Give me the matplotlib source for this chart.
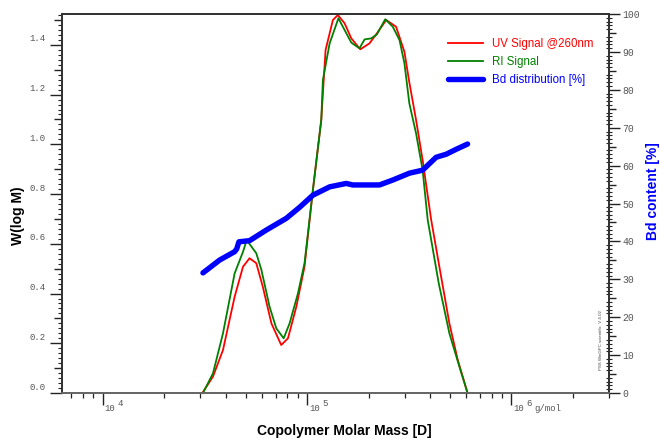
import numpy as np
import matplotlib
matplotlib.use('Agg')
import matplotlib.pyplot as plt
from matplotlib.ticker import FixedLocator, LogLocator, NullFormatter, FuncFormatter, MultipleLocator
from matplotlib.transforms import ScaledTranslation, blended_transform_factory

# ---------------- data ----------------
uv_logM = [4.487, 4.539, 4.588, 4.645, 4.686, 4.718, 4.751, 4.783, 4.825, 4.873,
           4.906, 4.947, 4.987, 5.028, 5.069, 5.090, 5.126, 5.150, 5.183, 5.216,
           5.260, 5.305, 5.341, 5.387, 5.435, 5.476, 5.500, 5.533, 5.565, 5.607,
           5.647, 5.696, 5.737, 5.785]
uv_w = [0.0, 0.066, 0.173, 0.387, 0.508, 0.542, 0.522, 0.427, 0.280, 0.193,
        0.220, 0.347, 0.508, 0.816, 1.098, 1.379, 1.500, 1.520, 1.487, 1.426,
        1.382, 1.406, 1.446, 1.500, 1.473, 1.372, 1.249, 1.098, 0.937, 0.696,
        0.508, 0.280, 0.133, 0.0]

ri_logM = [4.490, 4.539, 4.588, 4.645, 4.686, 4.704, 4.751, 4.776, 4.816, 4.849,
           4.885, 4.914, 4.955, 4.987, 5.028, 5.069, 5.077, 5.110, 5.153, 5.183,
           5.216, 5.256, 5.281, 5.313, 5.341, 5.382, 5.419, 5.452, 5.476, 5.500,
           5.533, 5.565, 5.590, 5.644, 5.696, 5.745, 5.785]
ri_w = [0.0, 0.079, 0.240, 0.481, 0.568, 0.615, 0.562, 0.495, 0.347, 0.260,
        0.220, 0.280, 0.401, 0.522, 0.816, 1.098, 1.259, 1.406, 1.507, 1.460,
        1.409, 1.386, 1.422, 1.426, 1.442, 1.503, 1.473, 1.419, 1.326, 1.165,
        1.044, 0.897, 0.696, 0.441, 0.240, 0.106, 0.0]

bd_logM = [4.490, 4.572, 4.645, 4.655, 4.666, 4.718, 4.800, 4.898, 4.963, 5.028,
           5.110, 5.191, 5.223, 5.354, 5.419, 5.500, 5.565, 5.631, 5.680, 5.729,
           5.785]
bd_pct = [31.7, 35.1, 37.3, 38.0, 39.9, 40.2, 43.0, 46.1, 49.0, 52.2,
          54.4, 55.3, 54.9, 54.9, 56.2, 58.0, 58.8, 62.2, 63.0, 64.3,
          65.7]

x_major = [1e4, 1e5, 1e6]
x_exponents = ['4', '5', '6']
left_major = [round(0.1 * i, 1) for i in range(16)]
right_major = list(range(0, 101, 5))

# ---------------- figure ----------------
DPI = 100
fig = plt.figure(figsize=(6.6, 4.41), dpi=DPI)
ax = fig.add_axes([0.0939, 0.1088, 0.8288, 0.8594])

ax.plot(np.power(10.0, uv_logM), uv_w, color='#ff0000', lw=1.3,
        label='UV Signal @260nm', zorder=3, clip_on=False)
ax.plot(np.power(10.0, ri_logM), ri_w, color='#008000', lw=1.3,
        label='RI Signal', zorder=4, clip_on=False)
ax.set_xscale('log')
ax.set_xlim(10 ** 3.8, 3e6)
ax.set_ylim(0, 1.524)

ax2 = ax.twinx()
ax2.plot(np.power(10.0, bd_logM), bd_pct, color='#0000ff', lw=3.9,
         solid_capstyle='round', solid_joinstyle='round',
         label='Bd distribution [%]', zorder=5)
ax2.set_ylim(0, 100)

spine_col = '#333333'
for a in (ax, ax2):
    for s in a.spines.values():
        s.set_color(spine_col)
        s.set_linewidth(1.3)
ax.spines['bottom'].set_color('#666666')
ax2.spines['bottom'].set_color('#666666')

mono = 'Liberation Mono'
lab_col = '#555555'

# x axis
ax.xaxis.set_major_locator(FixedLocator(x_major))
ax.xaxis.set_minor_locator(LogLocator(base=10, subs=np.arange(2, 10)))
ax.xaxis.set_major_formatter(NullFormatter())
ax.xaxis.set_minor_formatter(NullFormatter())
ax.tick_params(axis='x', which='major', direction='out', length=8.6, width=1.0,
               color='#222222', top=False)
ax.tick_params(axis='x', which='minor', direction='out', length=3.6, width=0.9,
               color='#222222', top=False)

tr = blended_transform_factory(ax.transData, ax.transAxes)
for v, e in zip(x_major, x_exponents):
    ax.text(v, 0, '10', transform=tr + ScaledTranslation(2 / DPI, -15 / DPI, fig.dpi_scale_trans),
            ha='left', va='center', fontsize=6.5, family=mono, color=lab_col)
    ax.text(v, 0, e, transform=tr + ScaledTranslation(15 / DPI, -10 / DPI, fig.dpi_scale_trans),
            ha='left', va='center', fontsize=6.5, family=mono, color=lab_col)
ax.text(x_major[-1], 0, 'g/mol',
        transform=tr + ScaledTranslation(23 / DPI, -15 / DPI, fig.dpi_scale_trans),
        ha='left', va='center', fontsize=6.5, family=mono, color=lab_col)

# left y axis
ax.yaxis.set_major_locator(FixedLocator(left_major))
ax.yaxis.set_minor_locator(FixedLocator([round(0.02 * i, 2) for i in range(77)]))
ax.yaxis.set_major_formatter(FuncFormatter(
    lambda v, p: ('%.1f' % v) if abs(v / 0.2 - round(v / 0.2)) < 1e-6 else ''))
ax.tick_params(axis='y', which='major', direction='out', length=8.6, width=1.0,
               color='#222222', labelsize=6.5, labelcolor=lab_col,
               labelfontfamily=mono, pad=3, right=False)
ax.tick_params(axis='y', which='minor', direction='out', length=3.0, width=0.8,
               color='#222222', right=False)
for t, v in zip(ax.yaxis.get_major_ticks(len(left_major)), left_major):
    if abs(v / 0.2 - round(v / 0.2)) > 1e-6:
        t.tick1line.set_markersize(5.8)
    t.label1.set_transform(t.label1.get_transform() +
                           ScaledTranslation(0, 7 / DPI, fig.dpi_scale_trans))

# right y axis
ax2.yaxis.set_major_locator(FixedLocator(right_major))
ax2.yaxis.set_minor_locator(MultipleLocator(1))
ax2.yaxis.set_major_formatter(FuncFormatter(lambda v, p: ('%d' % v) if int(round(v)) % 10 == 0 else ''))
ax2.tick_params(axis='y', which='major', direction='out', length=8.0, width=1.0,
                color='#222222', labelsize=7, labelcolor=lab_col,
                labelfontfamily=mono, pad=1.5)
ax2.tick_params(axis='y', which='minor', direction='inout', length=4.0, width=0.8,
                color='#222222')
for t, v in zip(ax2.yaxis.get_major_ticks(len(right_major)), right_major):
    if v % 10 != 0:
        t.tick2line.set_markersize(5.0)

# axis labels
ax.set_ylabel('W(log M)', fontsize=10, fontweight='bold', family='Liberation Sans',
              va='center', color='black')
ax.yaxis.set_label_coords((18.5 - 62) / 547, (393 - 216) / 379)
ax.set_xlabel('Copolymer Molar Mass [D]', fontsize=10, fontweight='bold',
              family='Liberation Sans', va='center', color='black')
ax.xaxis.set_label_coords((344.5 - 62) / 547, (393 - 431) / 379)
ax2.set_ylabel('Bd content [%]', fontsize=10, fontweight='bold', family='Liberation Sans',
               va='center', color='#0000ff', rotation=90)
ax2.yaxis.set_label_coords((653 - 62) / 547, (393 - 191) / 379)

# small stamp
fig.text(601.5 / 660, (441 - 340) / 441, 'PSS WinGPC scientific  V 4.02', rotation=90,
         fontsize=3.2, color='#444444', ha='center', va='center', family='Liberation Sans')

# legend
h1, l1 = ax.get_legend_handles_labels()
h2, l2 = ax2.get_legend_handles_labels()
leg = ax2.legend(h1 + h2, l1 + l2, loc='upper left',
                 bbox_to_anchor=((448 - 62) / 547, (393 - 38) / 379),
                 frameon=False, handlelength=3.0, handletextpad=0.85,
                 labelspacing=0.5, borderpad=0, borderaxespad=0,
                 labelcolor='linecolor', prop={'family': 'Liberation Sans', 'size': 8.3})

fig.savefig('out.png', dpi=DPI)
